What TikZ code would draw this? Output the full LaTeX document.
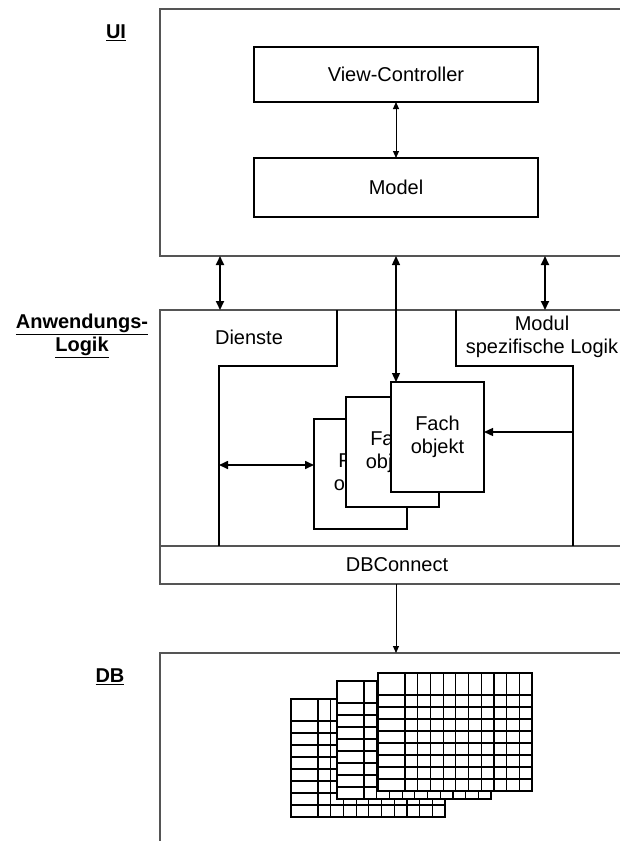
\documentclass[tikz,border=0pt]{standalone}
\usepackage{fontspec}
\setmainfont{Liberation Sans}
\usetikzlibrary{arrows.meta,calc,positioning}
\definecolor{frame}{HTML}{555555}

\begin{document}
\begin{tikzpicture}[x=1pt,y=-1pt,>={Triangle[length=9pt,width=8pt]},
  every node/.style={font=\fontsize{20}{23}\selectfont},
  layer/.style={draw=frame,line width=1.8pt,inner sep=0pt,outer sep=0pt,anchor=north west},
  part/.style={draw,line width=1.4pt,fill=white,inner sep=0pt,outer sep=0pt,anchor=north west,align=center},
  tag/.style={font=\fontsize{20}{23}\selectfont\bfseries,align=center},
  link/.style={<->,line width=1.8pt},
  thin link/.style={line width=1pt,>={Triangle[length=7pt,width=6pt]}},
  grid line/.style={line width=1.2pt}]
\fill[white] (0,0) rectangle (620,841);
\useasboundingbox (0,0) rectangle (620,841);
\clip (0,0) rectangle (620,841);

% layers
\node[layer,minimum width=480,minimum height=247] (ui) at (160,9) {};
\node[layer,minimum width=480,minimum height=236] (logic) at (160,310) {};
\node[layer,minimum width=480,minimum height=38] (dbc) at (160,546) {};
\node[layer,minimum width=480,minimum height=250] (db) at (160,653) {};
\node[tag] (tui) at (116,33) {\underline{UI}};
\node[tag] (tlogic) at (82,336) {\underline{Anwendungs-}\\\underline{Logik}};
\node[tag] (tdb) at (110,677) {\underline{DB}};

% UI
\node[part,minimum width=284,minimum height=55] (vc) at (254,47) {View-Controller};
\node[part,minimum width=284,minimum height=59] (model) at (254,158) {Model};
\draw[thin link,<->] (vc) -- (model);

% Dienste / Modul
\draw[line width=1.4pt] (337,310) -- (337,366) -- (219,366) -- (219,546);
\draw[line width=1.4pt] (456,310) -- (456,366) -- (573,366) -- (573,546);
\node (dienste) at (249,337) {Dienste};
\node[align=center] (modul) at (542,337) {Modul\\spezifische Logik};

\foreach \n/\x/\y in {1/314/419,2/346/397,3/391/382}
  \node[part,minimum width=93,minimum height=110] (fach\n) at (\x,\y) {Fach\\objekt};

\node (tdbc) at (397,565) {DBConnect};

% connectors
\coordinate (xl) at (220,0);
\coordinate (xm) at (396,0);
\coordinate (xr) at (545,0);
\draw[link] (ui.south -| xl) -- (logic.north -| xl);
\draw[link] (ui.south -| xr) -- (logic.north -| xr);
\draw[link,line width=1.3pt] (ui.south -| xm) -- (fach3.north -| xm);
\coordinate (dl) at (219,465);
\draw[<->,line width=1.6pt] (dl) -- (dl -| fach1.west);
\coordinate (ml) at (573,432);
\draw[->,line width=1.4pt] (ml) -- (ml -| fach3.east);
\draw[thin link,->] (dbc.south -| xm) -- (db.north -| xm);

% tables
\foreach \x/\y in {291/699,337/681,378/673}{
  \begin{scope}[shift={(\x,\y)}]
    \fill[white] (0,0) rectangle (154,118);
    \foreach \c in {0,...,9}
      \draw[grid line] ({27+12.7*\c},0) -- ({27+12.7*\c},118);
    \foreach \r in {0,...,7}
      \draw[grid line] (0,{22+12*\r}) -- (154,{22+12*\r});
    \draw[grid line] (0,0) rectangle (154,118);
  \end{scope}
}
\end{tikzpicture}
\end{document}
